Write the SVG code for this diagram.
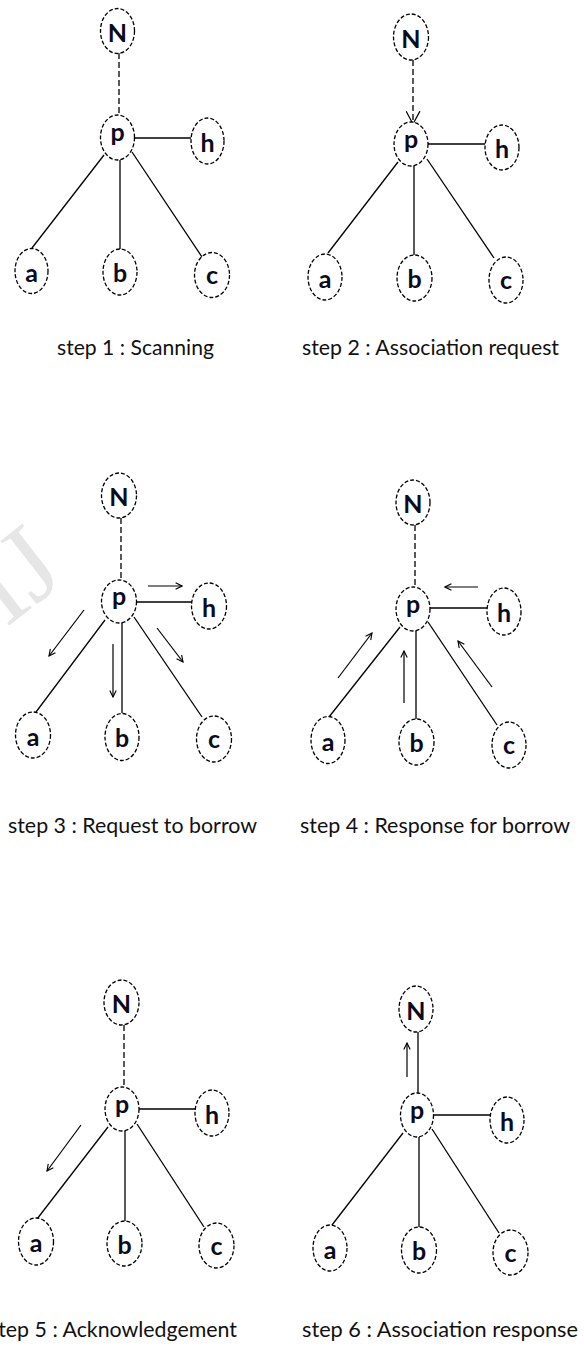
<svg xmlns="http://www.w3.org/2000/svg" width="584" height="1346" viewBox="0 0 584 1346">
  <style>
    .nd ellipse { fill: #fff; stroke: #000; stroke-width: 1.3; stroke-dasharray: 4 2; }
    .nd text { font-family: Lato, "Open Sans", "Liberation Sans", sans-serif; font-weight: 700; font-size: 25px; fill: #0b0b1e; text-anchor: middle; }
    .ln { stroke: #000; stroke-width: 1.3; fill: none; }
    .dl { stroke: #000; stroke-width: 1.3; fill: none; stroke-dasharray: 6 3; }
    .ar { stroke: #000; stroke-width: 1.2; fill: none; marker-end: url(#v); }
    .cap { font-family: Lato, "Open Sans", "Liberation Sans", sans-serif; font-size: 22px; fill: #111; }
    .wm { font-family: "Liberation Serif", serif; font-size: 110px; fill: #e6e6e6; }
  </style>
  <defs>
    <marker id="v" viewBox="0 0 10 10" refX="9" refY="5" markerWidth="8" markerHeight="8" markerUnits="userSpaceOnUse" orient="auto">
      <path d="M1,1 L9,5 L1,9" fill="none" stroke="#000" stroke-width="1.4"/>
    </marker>
    <marker id="vb" viewBox="0 0 14 14" refX="13" refY="7" markerWidth="15" markerHeight="15" markerUnits="userSpaceOnUse" orient="auto">
      <path d="M1,0.5 L13,7 L1,13.5" fill="none" stroke="#000" stroke-width="1.1"/>
    </marker>
    <clipPath id="wmclip"><rect x="0" y="500" width="62" height="160"/></clipPath>
  </defs>

  <rect width="584" height="1346" fill="#fff"/>

  <!-- faint watermark, only its edge shows at the left margin -->
  <g clip-path="url(#wmclip)">
    <text class="wm" transform="translate(6,628) rotate(-38)">IJ</text>
  </g>

  <!-- ===== step 1 ===== -->
  <g id="s1-edges">
    <line class="dl" x1="119" y1="53" x2="119" y2="115"/>
    <line class="ln" x1="135" y1="138" x2="191" y2="138"/>
    <line class="ln" x1="104" y1="155" x2="32" y2="248"/>
    <line class="ln" x1="120" y1="160" x2="120" y2="249"/>
    <line class="ln" x1="132" y1="152" x2="202" y2="257"/>
  </g>
  <g id="s1-N" class="nd"><ellipse cx="117.5" cy="31" rx="17" ry="22.5"/><text x="117.5" y="42">N</text></g>
  <g id="s1-p" class="nd"><ellipse cx="117.5" cy="137.5" rx="17" ry="22.5"/><text x="117.5" y="141">p</text></g>
  <g id="s1-h" class="nd"><ellipse cx="207.5" cy="141" rx="16.5" ry="23"/><text x="207.5" y="152">h</text></g>
  <g id="s1-a" class="nd"><ellipse cx="31.5" cy="271" rx="16.5" ry="22.5"/><text x="31.5" y="282">a</text></g>
  <g id="s1-b" class="nd"><ellipse cx="120" cy="272" rx="17" ry="23"/><text x="120" y="282">b</text></g>
  <g id="s1-c" class="nd"><ellipse cx="212" cy="275" rx="17.5" ry="22.5"/><text x="212" y="284">c</text></g>
  <text class="cap" x="57" y="355" textLength="157" lengthAdjust="spacingAndGlyphs">step 1 : Scanning</text>

  <!-- ===== step 2 ===== -->
  <g id="s2-edges">
    <line class="dl" x1="413" y1="60" x2="413" y2="124" marker-end="url(#vb)"/>
    <line class="ln" x1="428" y1="144" x2="485" y2="144"/>
    <line class="ln" x1="398" y1="162" x2="328" y2="253"/>
    <line class="ln" x1="414" y1="166" x2="414" y2="255"/>
    <line class="ln" x1="427" y1="159" x2="494" y2="258"/>
  </g>
  <g id="s2-N" class="nd"><ellipse cx="411" cy="37" rx="17.5" ry="23"/><text x="411" y="48">N</text></g>
  <g id="s2-p" class="nd"><ellipse cx="411" cy="144" rx="17" ry="22"/><text x="411" y="148">p</text></g>
  <g id="s2-h" class="nd"><ellipse cx="502" cy="147.5" rx="17" ry="22.5"/><text x="502" y="158">h</text></g>
  <g id="s2-a" class="nd"><ellipse cx="325" cy="277" rx="17" ry="23"/><text x="325" y="288">a</text></g>
  <g id="s2-b" class="nd"><ellipse cx="414.5" cy="278" rx="17.5" ry="23"/><text x="414.5" y="288">b</text></g>
  <g id="s2-c" class="nd"><ellipse cx="506" cy="280" rx="17" ry="23"/><text x="506" y="289">c</text></g>
  <text class="cap" x="302" y="355" textLength="257" lengthAdjust="spacingAndGlyphs">step 2 : Association request</text>

  <!-- ===== step 3 ===== -->
  <g id="s3-edges">
    <line class="dl" x1="121" y1="518" x2="121" y2="580"/>
    <line class="ln" x1="137" y1="602" x2="193" y2="602"/>
    <line class="ln" x1="105" y1="620" x2="36" y2="712"/>
    <line class="ln" x1="122" y1="623" x2="122" y2="713"/>
    <line class="ln" x1="134" y1="617" x2="202" y2="717"/>
    <line class="ar" x1="148" y1="586" x2="182" y2="586"/>
    <line class="ar" x1="84" y1="610" x2="49" y2="656"/>
    <line class="ar" x1="113" y1="644" x2="113" y2="697"/>
    <line class="ar" x1="157" y1="628" x2="183" y2="662"/>
  </g>
  <g id="s3-N" class="nd"><ellipse cx="119" cy="495.5" rx="17.5" ry="22.5"/><text x="119" y="506">N</text></g>
  <g id="s3-p" class="nd"><ellipse cx="119" cy="601.5" rx="17.5" ry="21.5"/><text x="119" y="605">p</text></g>
  <g id="s3-h" class="nd"><ellipse cx="209" cy="606" rx="17.5" ry="23"/><text x="209" y="617">h</text></g>
  <g id="s3-a" class="nd"><ellipse cx="33" cy="735" rx="17.5" ry="23"/><text x="33" y="746">a</text></g>
  <g id="s3-b" class="nd"><ellipse cx="122" cy="737" rx="17" ry="23.5"/><text x="122" y="747">b</text></g>
  <g id="s3-c" class="nd"><ellipse cx="214" cy="739" rx="17.5" ry="23"/><text x="214" y="748">c</text></g>
  <text class="cap" x="8" y="833" textLength="249" lengthAdjust="spacingAndGlyphs">step 3 : Request to borrow</text>

  <!-- ===== step 4 ===== -->
  <g id="s4-edges">
    <line class="dl" x1="415" y1="525" x2="415" y2="587"/>
    <line class="ln" x1="430" y1="608" x2="487" y2="608"/>
    <line class="ln" x1="400" y1="627" x2="329" y2="717"/>
    <line class="ln" x1="416" y1="631" x2="416" y2="719"/>
    <line class="ln" x1="428" y1="622" x2="497" y2="725"/>
    <line class="ar" x1="478" y1="587" x2="445" y2="587"/>
    <line class="ar" x1="338" y1="678" x2="372" y2="633"/>
    <line class="ar" x1="404" y1="703" x2="404" y2="651"/>
    <line class="ar" x1="492" y1="687" x2="458" y2="641"/>
  </g>
  <g id="s4-N" class="nd"><ellipse cx="413" cy="502.5" rx="17" ry="22.5"/><text x="413" y="513">N</text></g>
  <g id="s4-p" class="nd"><ellipse cx="413" cy="609" rx="17" ry="22"/><text x="413" y="613">p</text></g>
  <g id="s4-h" class="nd"><ellipse cx="504" cy="611.5" rx="17" ry="23.5"/><text x="504" y="622">h</text></g>
  <g id="s4-a" class="nd"><ellipse cx="328" cy="740" rx="17" ry="23.5"/><text x="328" y="751">a</text></g>
  <g id="s4-b" class="nd"><ellipse cx="416.5" cy="742" rx="17.5" ry="23"/><text x="416.5" y="752">b</text></g>
  <g id="s4-c" class="nd"><ellipse cx="509" cy="745" rx="17" ry="23"/><text x="509" y="754">c</text></g>
  <text class="cap" x="300" y="833" textLength="270" lengthAdjust="spacingAndGlyphs">step 4 : Response for borrow</text>

  <!-- ===== step 5 ===== -->
  <g id="s5-edges">
    <line class="dl" x1="124" y1="1025" x2="124" y2="1087"/>
    <line class="ln" x1="139" y1="1109" x2="197" y2="1109"/>
    <line class="ln" x1="108" y1="1127" x2="37" y2="1219"/>
    <line class="ln" x1="125" y1="1131" x2="125" y2="1221"/>
    <line class="ln" x1="137" y1="1124" x2="204" y2="1227"/>
    <line class="ar" x1="81" y1="1125" x2="47" y2="1171"/>
  </g>
  <g id="s5-N" class="nd"><ellipse cx="121.5" cy="1002.5" rx="17.5" ry="22.5"/><text x="121.5" y="1013">N</text></g>
  <g id="s5-p" class="nd"><ellipse cx="122" cy="1109" rx="17" ry="22"/><text x="122" y="1113">p</text></g>
  <g id="s5-h" class="nd"><ellipse cx="212" cy="1113" rx="17" ry="23"/><text x="212" y="1124">h</text></g>
  <g id="s5-a" class="nd"><ellipse cx="36" cy="1241.5" rx="17.5" ry="23.5"/><text x="36" y="1252">a</text></g>
  <g id="s5-b" class="nd"><ellipse cx="124.5" cy="1243.5" rx="17.5" ry="22.5"/><text x="124.5" y="1254">b</text></g>
  <g id="s5-c" class="nd"><ellipse cx="216.5" cy="1245.5" rx="17.5" ry="22.5"/><text x="216.5" y="1255">c</text></g>
  <text class="cap" x="-11" y="1337" textLength="248" lengthAdjust="spacingAndGlyphs">step 5 : Acknowledgement</text>

  <!-- ===== step 6 ===== -->
  <g id="s6-edges">
    <line class="ln" x1="418" y1="1032" x2="418" y2="1093"/>
    <line class="ln" x1="433" y1="1115" x2="491" y2="1115"/>
    <line class="ln" x1="403" y1="1133" x2="332" y2="1225"/>
    <line class="ln" x1="419" y1="1137" x2="419" y2="1227"/>
    <line class="ln" x1="432" y1="1129" x2="499" y2="1233"/>
    <line class="ar" x1="407" y1="1077" x2="407" y2="1043"/>
  </g>
  <g id="s6-N" class="nd"><ellipse cx="416" cy="1009" rx="17" ry="23"/><text x="416" y="1020">N</text></g>
  <g id="s6-p" class="nd"><ellipse cx="417" cy="1115" rx="16.5" ry="22"/><text x="417" y="1119">p</text></g>
  <g id="s6-h" class="nd"><ellipse cx="507" cy="1120" rx="17" ry="23"/><text x="507" y="1131">h</text></g>
  <g id="s6-a" class="nd"><ellipse cx="330" cy="1248" rx="17" ry="23"/><text x="330" y="1259">a</text></g>
  <g id="s6-b" class="nd"><ellipse cx="419" cy="1250" rx="17.5" ry="23"/><text x="419" y="1260">b</text></g>
  <g id="s6-c" class="nd"><ellipse cx="510.5" cy="1252.5" rx="17.5" ry="22.5"/><text x="510.5" y="1262">c</text></g>
  <text class="cap" x="302" y="1337" textLength="276" lengthAdjust="spacingAndGlyphs">step 6 : Association response</text>
</svg>
